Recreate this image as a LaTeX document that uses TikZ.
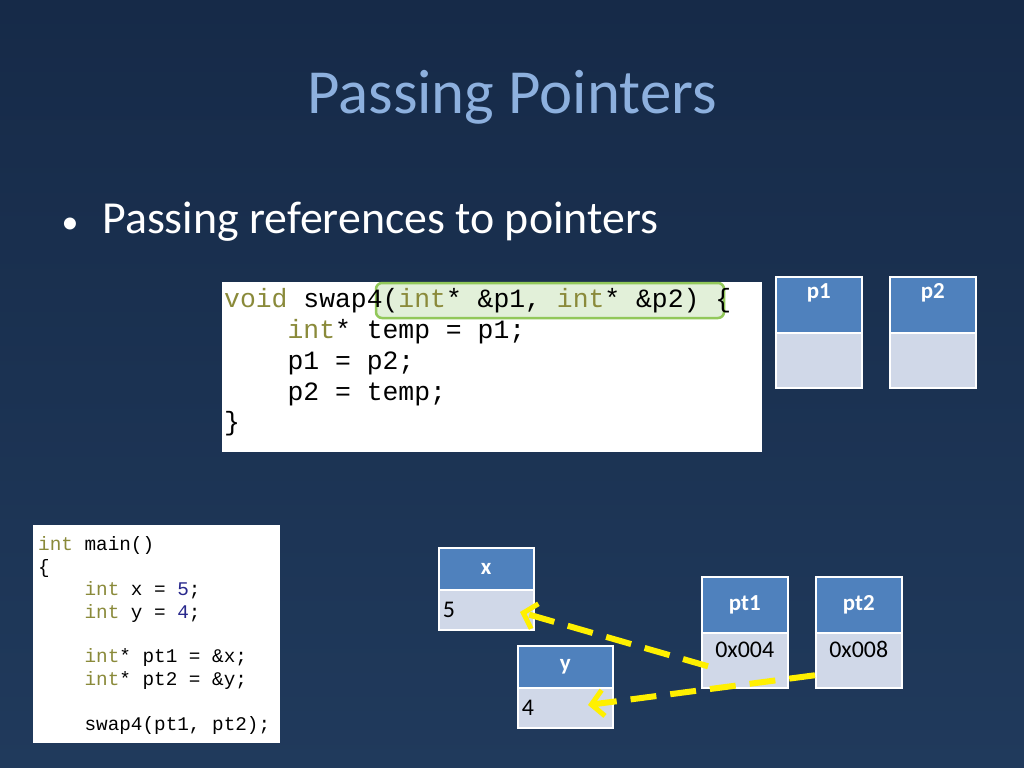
\documentclass[tikz,border=0pt]{standalone}
\usepackage{fontspec}
\setmainfont{Carlito}
\newfontfamily\codefont{Liberation Mono}
\usetikzlibrary{arrows.meta}
\definecolor{bgtop}{RGB}{22,42,72}
\definecolor{bgbot}{RGB}{32,58,92}
\definecolor{ttl}{RGB}{141,176,222}
\definecolor{hdr}{RGB}{79,129,189}
\definecolor{cellb}{RGB}{208,216,232}
\definecolor{kw}{RGB}{138,138,58}
\definecolor{num}{RGB}{40,40,140}
\definecolor{hl}{RGB}{226,240,217}
\definecolor{hlb}{RGB}{146,200,90}
\definecolor{ylw}{RGB}{255,240,0}
\begin{document}
\begin{tikzpicture}[x=1bp,y=-1bp,
  hdrbox/.style={draw=white,line width=1.5bp,fill=hdr,minimum width=#1,inner sep=0,text=white,font=\bfseries\fontsize{23}{23}\selectfont},
  cellbox/.style={draw=white,line width=1.5bp,fill=cellb,minimum width=#1,inner sep=0,font=\fontsize{24}{24}\selectfont,align=left},
  ptr/.style={ylw,line width=6bp,dash pattern=on 26bp off 14bp,-{Straight Barb[length=12bp,width=26bp,line width=5bp]}},
  code1/.style={anchor=west,font=\codefont\fontsize{26.5}{26.5}\selectfont,inner sep=0},
  code2/.style={anchor=west,font=\codefont\fontsize{19.4}{19.4}\selectfont,inner sep=0}]
\shade[top color=bgtop,bottom color=bgbot] (0,0) rectangle (1024,768);
\useasboundingbox (0,0) rectangle (1024,768);
\node[text=ttl,font=\fontsize{63}{63}\selectfont] (title) at (512,97) {Passing Pointers};
\node[anchor=west,text=white,font=\fontsize{46}{46}\selectfont] (bul) at (58,222) {\fontsize{34}{34}\selectfont•\hspace{24bp}\fontsize{46}{46}\selectfont Passing references to pointers};
% code 1
\node[fill=white,minimum width=540bp,minimum height=170bp,inner sep=0] (c1) at (492,367) {};
\node[draw=hlb,line width=2.5bp,fill=hl,rounded corners=6bp,minimum width=348bp,minimum height=35bp,inner sep=0] (hlbox) at (550,300.5) {};
\node[code1] (l1) at (224,301) {\textcolor{kw}{void} swap4(\textcolor{kw}{int}* \&p1, \textcolor{kw}{int}* \&p2) \{};
\node[code1] (l2) at (224,332) {\phantom{0000}\textcolor{kw}{int}* temp = p1;};
\node[code1] (l3) at (224,363) {\phantom{0000}p1 = p2;};
\node[code1] (l4) at (224,394) {\phantom{0000}p2 = temp;};
\node[code1] (l5) at (224,424) {\}};
% p1 p2
\node[hdrbox=86bp,minimum height=56bp,anchor=north west,text depth=28bp] (p1h) at (775,276) {p1};
\node[cellbox=86bp,minimum height=55bp,anchor=north west] (p1b) at (775,332) {};
\node[hdrbox=86bp,minimum height=56bp,anchor=north west,text depth=28bp] (p2h) at (889,276) {p2};
\node[cellbox=86bp,minimum height=55bp,anchor=north west] (p2b) at (889,332) {};
% code 2
\node[fill=white,minimum width=247bp,minimum height=218bp,inner sep=0] (c2) at (156.5,634) {};
\node[code2] (m1) at (38,545) {\textcolor{kw}{int} main()};
\node[code2] (m2) at (38,568) {\{};
\node[code2] (m3) at (38,590) {\phantom{0000}\textcolor{kw}{int} x = \textcolor{num}{5};};
\node[code2] (m4) at (38,613) {\phantom{0000}\textcolor{kw}{int} y = \textcolor{num}{4};};
\node[code2] (m5) at (38,657) {\phantom{0000}\textcolor{kw}{int}* pt1 = \&x;};
\node[code2] (m6) at (38,680) {\phantom{0000}\textcolor{kw}{int}* pt2 = \&y;};
\node[code2] (m7) at (38,725) {\phantom{0000}swap4(pt1, pt2);};
% x y
\node[hdrbox=95bp,minimum height=42bp,anchor=north west] (xh) at (438,547) {x};
\node[cellbox=95bp,minimum height=40bp,anchor=north west,text width=87bp] (xb) at (438,589) {5};
\node[hdrbox=95bp,minimum height=42bp,anchor=north west] (yh) at (517,645) {y};
\node[cellbox=95bp,minimum height=40bp,anchor=north west,text width=87bp] (yb) at (517,687) {4};
% pt1 pt2
\node[hdrbox=86bp,minimum height=56bp,anchor=north west] (pt1h) at (701,576) {pt1};
\node[cellbox=86bp,minimum height=55bp,anchor=north west,text depth=22bp,align=center] (pt1b) at (701,632) {0x004};
\node[hdrbox=86bp,minimum height=56bp,anchor=north west] (pt2h) at (815,576) {pt2};
\node[cellbox=86bp,minimum height=55bp,anchor=north west,text depth=22bp,align=center] (pt2b) at (815,632) {0x008};
% arrows
\coordinate (xt) at (520,612);
\coordinate (yt) at (588,705);
\draw[ptr] ([xshift=7bp,yshift=-6bp]pt1b.west) -- (xt);
\draw[ptr] ([yshift=-15bp]pt2b.west) -- (yt);
\end{tikzpicture}
\end{document}
